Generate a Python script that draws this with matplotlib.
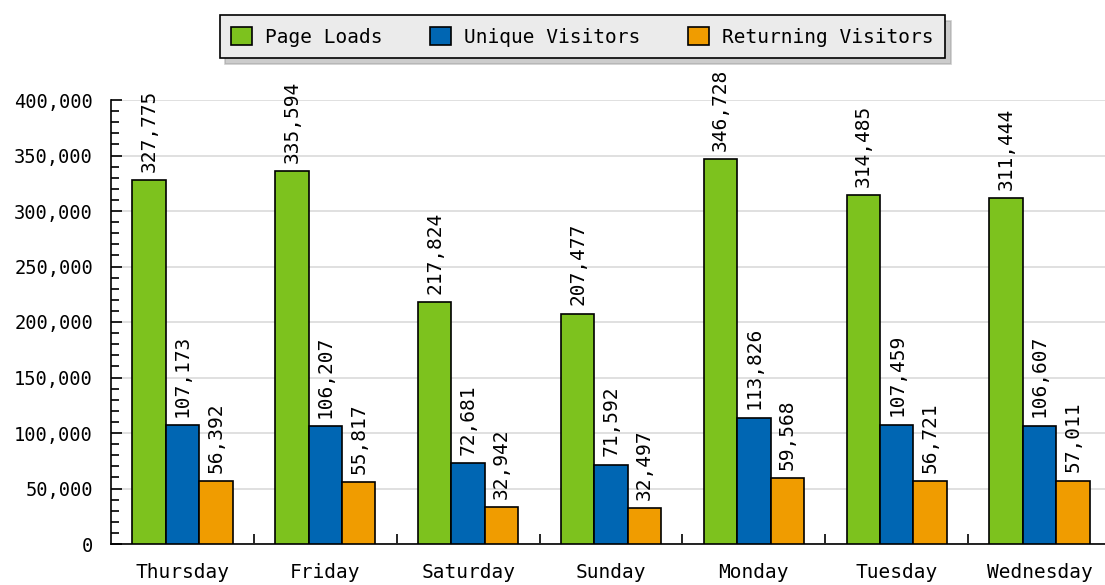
import numpy as np
import matplotlib
matplotlib.use("Agg")
from matplotlib import pyplot as plt
from matplotlib.ticker import FuncFormatter, MultipleLocator

days = ["Thursday", "Friday", "Saturday", "Sunday", "Monday", "Tuesday", "Wednesday"]
page_loads = [327775, 335594, 217824, 207477, 346728, 314485, 311444]
unique_visitors = [107173, 106207, 72681, 71592, 113826, 107459, 106607]
returning_visitors = [56392, 55817, 32942, 32497, 59568, 56721, 57011]

series = [
    ("Page Loads", page_loads, "#7dc21e"),
    ("Unique Visitors", unique_visitors, "#0066b3"),
    ("Returning Visitors", returning_visitors, "#f09c00"),
]


def main():
    plt.rcParams["font.family"] = ["DejaVu Sans Mono"]
    fig = plt.figure(figsize=(11.05, 5.85), dpi=100)
    ax = fig.add_axes([111 / 1105, 41 / 585, 1000 / 1105, 444 / 585])

    x = np.arange(len(days))
    width = 0.234
    for i, (name, vals, color) in enumerate(series):
        pos = x + (i - 1) * width
        bars = ax.bar(pos, vals, width, color=color, edgecolor="black",
                      linewidth=1.2, label=name, zorder=3)
        for b, v in zip(bars, vals):
            ax.annotate(f"{v:,}", (b.get_x() + b.get_width() / 2, v),
                        xytext=(0, 6), textcoords="offset points",
                        rotation=90, ha="center", va="bottom", fontsize=14,
                        annotation_clip=False)

    ax.set_xlim(-0.5, len(days) - 0.5)
    ax.set_ylim(0, 400000)
    ax.yaxis.set_major_locator(MultipleLocator(50000))
    ax.yaxis.set_minor_locator(MultipleLocator(10000))
    ax.yaxis.set_major_formatter(FuncFormatter(lambda v, p: f"{int(v):,}"))
    ax.tick_params(axis="y", which="major", direction="in", length=8,
                   width=1.2, labelsize=13.5, pad=13)
    ax.tick_params(axis="y", which="minor", direction="in", length=6, width=1.2)
    ax.grid(axis="y", color="#dddddd", linewidth=1.3, zorder=0)

    ax.set_xticks(x)
    ax.set_xticklabels(days)
    ax.set_xticks(x[:-1] + 0.5, minor=True)
    ax.tick_params(axis="x", which="major", length=0, labelsize=14, pad=14)
    ax.tick_params(axis="x", which="minor", direction="in", length=7, width=1.2)

    for s in ["top", "right"]:
        ax.spines[s].set_visible(False)
    for s in ["left", "bottom"]:
        ax.spines[s].set_linewidth(1.2)

    leg = fig.legend(loc="upper center", bbox_to_anchor=(582.5 / 1105, 1 - 15 / 585),
                     borderaxespad=0, ncol=3, fontsize=14, frameon=True,
                     fancybox=False,
                     shadow={"ox": 4, "oy": -4, "color": "#9a9a9a"},
                     handlelength=1.05, handleheight=1.1, handletextpad=0.7,
                     columnspacing=2.45, borderpad=0.6)
    leg.get_frame().set_facecolor("#ebebeb")
    leg.get_frame().set_edgecolor("black")
    leg.get_frame().set_linewidth(1.2)
    leg.get_frame().set_alpha(1)

    fig.savefig("out.png", dpi=100)


if __name__ == '__main__':
    main()
